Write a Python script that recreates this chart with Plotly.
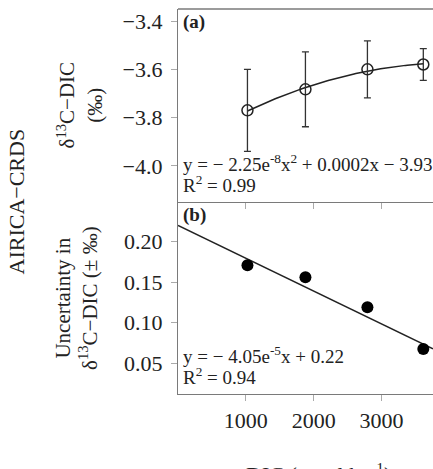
import numpy as np
import plotly.graph_objects as go

dic = [1024, 1879, 2793, 3617]
d13c = [-3.77, -3.683, -3.60, -3.58]
d13c_err = [0.17, 0.155, 0.118, 0.066]
uncert = [0.171, 0.156, 0.119, 0.0675]
lin_coef = [-4.05e-5, 0.22]
xticks = [1000, 2000, 3000]
ya_ticks = [-3.4, -3.6, -3.8, -4.0]
yb_ticks = [0.05, 0.10, 0.15, 0.20]

FONT = "Liberation Serif"
AX = "#7a7a7a"
W, H = 433, 469
ML, MT, MB = 178, 9, 75
plot_h = H - MT - MB
split = (394 - 202) / plot_h
xr = [0, 3760]

fig = go.Figure()

# Panel a: quadratic fit through points
qc = np.polyfit(dic, d13c, 2)
xf = np.linspace(min(dic), max(dic), 100)
fig.add_trace(go.Scatter(x=xf, y=np.polyval(qc, xf), mode="lines",
                         line=dict(color="#222", width=1.5), xaxis="x2", yaxis="y",
                         showlegend=False, hoverinfo="skip"))
fig.add_trace(go.Scatter(x=dic, y=d13c, mode="markers", xaxis="x2", yaxis="y",
                         marker=dict(symbol="circle-open", size=11, color="#222",
                                     line=dict(width=1.5)),
                         error_y=dict(type="data", array=d13c_err, color="#333",
                                      thickness=1.3, width=3.5),
                         showlegend=False))

# Panel b: linear fit
xl = np.array(xr, dtype=float)
fig.add_trace(go.Scatter(x=xl, y=np.polyval(lin_coef, xl), mode="lines",
                         line=dict(color="#222", width=1.5), xaxis="x", yaxis="y2",
                         showlegend=False, hoverinfo="skip"))
fig.add_trace(go.Scatter(x=dic, y=uncert, mode="markers", xaxis="x", yaxis="y2",
                         marker=dict(symbol="circle", size=12, color="black"),
                         showlegend=False))

tickfont = dict(family=FONT, size=22, color="#222")
axcommon = dict(showgrid=False, zeroline=False, showline=True, linecolor=AX,
                linewidth=1.3, ticks="outside", ticklen=6, tickcolor="#aaa",
                tickfont=tickfont)

fig.update_layout(
    width=W, height=H,
    margin=dict(l=ML, r=0, t=MT, b=MB),
    paper_bgcolor="white", plot_bgcolor="white",
    font=dict(family=FONT, color="#222"),
    xaxis=dict(range=xr, domain=[0, 1], anchor="y2", tickvals=xticks,
               **axcommon),
    xaxis2=dict(range=xr, domain=[0, 1], anchor="y", tickvals=xticks,
                showticklabels=False, **axcommon),
    yaxis=dict(range=[-4.15, -3.35], domain=[split, 1], anchor="x2",
               tickvals=ya_ticks, tickformat=".1f", ticklabelstandoff=4,
               **axcommon),
    yaxis2=dict(range=[0.012, 0.249], domain=[0, split], anchor="x",
                tickvals=yb_ticks, tickformat=".2f", ticklabelstandoff=4,
                **axcommon),
)

# top border of panel a
fig.add_shape(type="line", xref="paper", yref="paper", x0=0, x1=1, y0=1, y1=1,
              line=dict(color=AX, width=1.3))

ann = dict(font=dict(family=FONT, size=19, color="#222"), showarrow=False,
           xanchor="left")
fig.add_annotation(text="<b>(a)</b>", xref="paper", yref="paper", x=0.01, y=1.0,
                   yanchor="top", **ann)
fig.add_annotation(text="<b>(b)</b>", xref="paper", yref="paper", x=0.01, y=split,
                   yanchor="top", **ann)
fig.add_annotation(text="y = − 2.25e<sup>-8</sup>x<sup>2</sup> + 0.0002x − 3.93",
                   xref="paper", yref="paper", x=0.01, y=split + 0.102,
                   yanchor="middle", **ann)
fig.add_annotation(text="R<sup>2</sup> = 0.99", xref="paper", yref="paper",
                   x=0.01, y=split + 0.046, yanchor="middle", **ann)
fig.add_annotation(text="y = − 4.05e<sup>-5</sup>x + 0.22",
                   xref="paper", yref="paper", x=0.01, y=0.102,
                   yanchor="middle", **ann)
fig.add_annotation(text="R<sup>2</sup> = 0.94", xref="paper", yref="paper",
                   x=0.01, y=0.046, yanchor="middle", **ann)

ytf = dict(family=FONT, size=21, color="#222")
ya_c = split + (1 - split) / 2
yb_c = split / 2
fig.add_annotation(text="δ<sup>13</sup>C−DIC<br>(‰)", xref="paper", yref="paper",
                   x=-(ML - 80) / (W - ML), y=ya_c, textangle=-90, showarrow=False,
                   font=ytf, xanchor="center", yanchor="middle")
fig.add_annotation(text="Uncertainty in<br>δ<sup>13</sup>C−DIC (± ‰)", xref="paper",
                   yref="paper", x=-(ML - 76) / (W - ML), y=yb_c, textangle=-90,
                   showarrow=False, font=ytf, xanchor="center", yanchor="middle")
fig.add_annotation(text="AIRICA−CRDS", xref="paper", yref="paper",
                   x=-(ML - 16) / (W - ML), y=0.5, textangle=-90, showarrow=False,
                   font=dict(family=FONT, size=22, color="#222"),
                   xanchor="center", yanchor="middle")
fig.add_annotation(text="DIC (µmol kg<sup>-1</sup>)", xref="paper", yref="paper",
                   x=(318 - ML) / (W - ML), y=-(457 - 394) / plot_h,
                   showarrow=False, font=dict(family=FONT, size=22, color="#222"),
                   xanchor="center", yanchor="top")

fig.write_html("out.html")
